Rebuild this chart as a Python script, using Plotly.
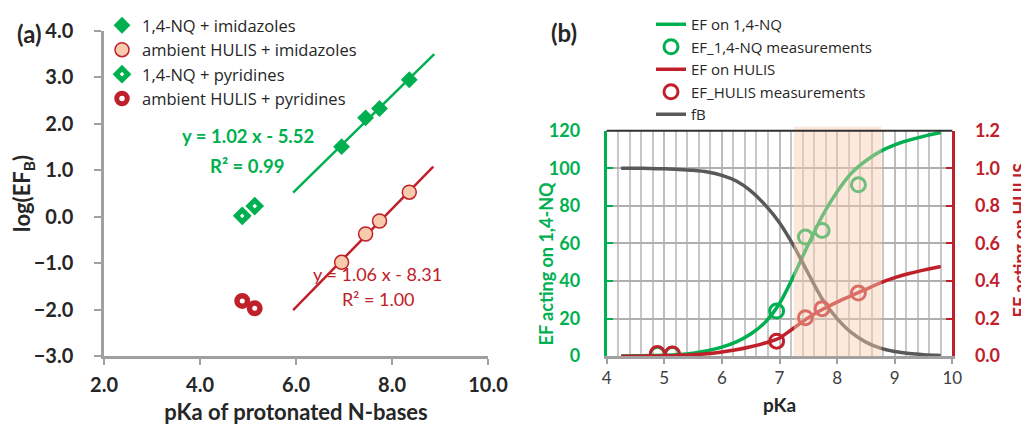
import plotly.graph_objects as go

# ---------------- Panel (a) data ----------------
pka_imid = [6.95, 7.45, 7.74, 8.36]
logef_nq_imid = [1.51, 2.13, 2.33, 2.95]
logef_hulis_imid = [-0.98, -0.37, -0.09, 0.53]
pka_pyr = [4.88, 5.14]
logef_nq_pyr = [0.02, 0.23]
logef_hulis_pyr = [-1.81, -1.97]
fit_nq_x = [5.94, 8.88]
fit_nq_y = [0.52, 3.50]
fit_hulis_x = [5.94, 8.86]
fit_hulis_y = [-2.01, 1.08]

# ---------------- Panel (b) data ----------------
pka_meas = [4.88, 5.14, 6.95, 7.45, 7.74, 8.37]
ef_nq_meas = [1.0, 1.0, 24.0, 63.4, 66.9, 91.2]
ef_hulis_meas = [0.014, 0.012, 0.08, 0.205, 0.253, 0.336]
pka_curve = [4.25, 4.5, 4.75, 5.0, 5.25, 5.5, 5.75, 6.0, 6.25, 6.5, 6.75, 7.0,
             7.25, 7.5, 7.75, 8.0, 8.25, 8.5, 8.75, 9.0, 9.25, 9.5, 9.8]
fb_curve = [100, 100, 99.9, 99.7, 99.4, 98.9, 98, 96.2, 93.2, 88, 80.5, 71,
            58.5, 44, 30, 20, 12.5, 7.5, 4.3, 2.5, 1.4, 0.8, 0.4]
ef_nq_curve = [0.1, 0.2, 0.3, 0.5, 0.9, 1.6, 2.9, 4.8, 7.6, 11.8, 18, 28,
               43, 59.5, 75, 87.5, 97.5, 104, 109, 112.5, 115, 117, 119]
ef_hulis_curve = [0.0, 0.0, 0.001, 0.002, 0.004, 0.007, 0.013, 0.022, 0.034, 0.05,
                  0.07, 0.097, 0.15, 0.205, 0.25, 0.288, 0.322, 0.356, 0.39,
                  0.418, 0.44, 0.458, 0.477]
shade_range = [7.25, 8.77]

FONT = "Lato"
LFONT = "Open Sans"
GREEN = "#00b050"
RED = "#c0202a"
DARK = "#262626"
GRAY = "#595959"

fig = go.Figure()

# ---- Panel (a) traces ----
fig.add_trace(go.Scatter(x=fit_nq_x, y=fit_nq_y, mode="lines", line=dict(color=GREEN, width=2.5),
                         showlegend=False, xaxis="x", yaxis="y"))
fig.add_trace(go.Scatter(x=fit_hulis_x, y=fit_hulis_y, mode="lines", line=dict(color=RED, width=2.5),
                         showlegend=False, xaxis="x", yaxis="y"))
fig.add_trace(go.Scatter(x=pka_imid, y=logef_nq_imid, mode="markers", name="1,4-NQ + imidazoles",
                         marker=dict(symbol="diamond", size=13, color=GREEN),
                         legend="legend", xaxis="x", yaxis="y"))
fig.add_trace(go.Scatter(x=pka_imid, y=logef_hulis_imid, mode="markers", name="ambient HULIS + imidazoles",
                         marker=dict(symbol="circle", size=14, color="#f8cbad", line=dict(color=RED, width=1.5)),
                         legend="legend", xaxis="x", yaxis="y"))
fig.add_trace(go.Scatter(x=pka_pyr, y=logef_nq_pyr, mode="markers", name="1,4-NQ + pyridines",
                         marker=dict(symbol="diamond", size=9, color="white", line=dict(color=GREEN, width=5)),
                         legend="legend", xaxis="x", yaxis="y"))
fig.add_trace(go.Scatter(x=pka_pyr, y=logef_hulis_pyr, mode="markers", name="ambient HULIS + pyridines",
                         marker=dict(symbol="circle", size=10.5, color="white", line=dict(color=RED, width=5.5)),
                         legend="legend", xaxis="x", yaxis="y"))

# ---- Panel (b) traces ----
fig.add_trace(go.Scatter(x=pka_curve, y=ef_nq_curve, mode="lines", name="EF on 1,4-NQ",
                         line=dict(color=GREEN, width=3.5, shape="spline", smoothing=0.8),
                         legend="legend2", legendrank=1001, xaxis="x2", yaxis="y2"))
fig.add_trace(go.Scatter(x=pka_meas, y=ef_nq_meas, mode="markers", name="EF_1,4-NQ measurements",
                         marker=dict(symbol="circle-open", size=14, color=GREEN, line=dict(width=3)),
                         legend="legend2", legendrank=1002, xaxis="x2", yaxis="y2"))
fig.add_trace(go.Scatter(x=pka_curve, y=fb_curve, mode="lines", name="fB",
                         line=dict(color=GRAY, width=3.5, shape="spline", smoothing=0.8),
                         legend="legend2", legendrank=1005, xaxis="x2", yaxis="y2"))
fig.add_trace(go.Scatter(x=pka_curve, y=ef_hulis_curve, mode="lines", name="EF on HULIS",
                         line=dict(color=RED, width=3.5, shape="spline", smoothing=0.8),
                         legend="legend2", legendrank=1003, xaxis="x2", yaxis="y3"))
fig.add_trace(go.Scatter(x=pka_meas, y=ef_hulis_meas, mode="markers", name="EF_HULIS measurements",
                         marker=dict(symbol="circle-open", size=14, color=RED, line=dict(width=3)),
                         legend="legend2", legendrank=1004, xaxis="x2", yaxis="y3"))

# page body has an 8px margin: the figure's origin sits at (8, 8) of the window
OFF = 8
W, H = 1029 - OFF, 425 - OFF
def px(x):
    return (x - OFF) / W
def py(y):
    return (H - (y - OFF)) / H

tickfont_a = dict(family=FONT, size=20, color=DARK, weight="bold")

fig.update_layout(
    width=W, height=H,
    margin=dict(l=0, r=0, t=0, b=0),
    paper_bgcolor="white", plot_bgcolor="white",
    font=dict(family=FONT, color=DARK),
    xaxis=dict(domain=[px(104), px(488)], range=[2, 10], dtick=2, tickformat=".1f", automargin=False,
               showgrid=False, zeroline=False, showline=True, linecolor="#a0a0a0", linewidth=2.5,
               ticks="outside", ticklen=6, tickwidth=2, tickcolor="#a0a0a0",
               tickfont=tickfont_a, ticklabelstandoff=3, anchor="y",
               title=dict(text="pKa of protonated N-bases", font=dict(family=FONT, size=22, color=DARK, weight="bold"),
                          standoff=21)),
    yaxis=dict(domain=[py(356), py(30)], range=[-3, 4], dtick=1, tickformat=".1f", automargin=False,
               showgrid=False, zeroline=False, showline=True, linecolor="#a0a0a0", linewidth=2.5,
               ticks="outside", ticklen=7, tickwidth=2, tickcolor="#a0a0a0",
               tickfont=tickfont_a, ticklabelstandoff=17, anchor="x",
               title=dict(text="log(EF<sub>B</sub>)", font=dict(family=FONT, size=22, color=DARK, weight="bold"),
                          standoff=21)),
    xaxis2=dict(domain=[px(606.7), px(952.3)], range=[4, 10], dtick=1, automargin=False,
                showgrid=True, gridcolor="#bdbdbd", gridwidth=1.5,
                minor=dict(dtick=0.2, showgrid=True, gridcolor="#c8c8c8", gridwidth=1.5),
                zeroline=False, showline=True, linecolor="#a0a0a0", linewidth=2.5,
                ticks="outside", ticklen=5, tickwidth=1.5, tickcolor="#a0a0a0",
                tickfont=dict(family=FONT, size=17, color="#404040"), ticklabelstandoff=0, anchor="y2",
                title=dict(text="pKa", font=dict(family=FONT, size=19, color=DARK, weight="bold"), standoff=12)),
    yaxis2=dict(domain=[py(356), py(130)], range=[0, 120], dtick=20, automargin=False,
                showgrid=True, gridcolor="#b0b0b0", gridwidth=1.5,
                zeroline=False, showline=True, linecolor=GREEN, linewidth=3,
                ticks="inside", ticklen=6, tickwidth=2, tickcolor=GREEN,
                tickfont=dict(family=FONT, size=18, color=GREEN, weight="bold"), ticklabelstandoff=20,
                anchor="x2"),
    yaxis3=dict(domain=[py(356), py(130)], range=[0, 1.2], dtick=0.2, tickformat=".1f", automargin=False,
                overlaying="y2", side="right", anchor="x2",
                showgrid=False, zeroline=False, showline=True, linecolor=RED, linewidth=3,
                ticks="inside", ticklen=6, tickwidth=2, tickcolor=RED,
                tickfont=dict(family=FONT, size=18, color=RED, weight="bold"), ticklabelstandoff=16),
    legend=dict(x=px(102), y=py(8), xanchor="left", yanchor="top", bgcolor="rgba(0,0,0,0)",
                font=dict(family=LFONT, size=16.5, color=DARK), tracegroupgap=0, itemclick=False),
    legend2=dict(x=px(651), y=py(7), xanchor="left", yanchor="top", bgcolor="rgba(0,0,0,0)",
                 font=dict(family=LFONT, size=15, color=DARK), tracegroupgap=0, itemclick=False,
                 traceorder="normal"),
)

# shaded pKa window (drawn above curves, semi-transparent)
fig.add_shape(type="rect", xref="x2", yref="y2 domain", x0=shade_range[0], x1=shade_range[1],
              y0=0, y1=1.018, fillcolor="rgb(251,206,175)", opacity=0.45, line=dict(width=0), layer="above")
# dark top border of panel (b)
fig.add_shape(type="line", xref="x2 domain", yref="y2 domain", x0=0, x1=1, y0=1, y1=1,
              line=dict(color="#303030", width=2))

def note(x, y, text, font, xref="paper", yref="paper", angle=0):
    fig.add_annotation(xref=xref, yref=yref, x=x, y=y, text=text, showarrow=False,
                       xanchor="center", yanchor="middle", textangle=angle, font=font)

# panel labels
note(px(29), py(33), "(a)", dict(family=FONT, size=24, color=DARK, weight="bold"))
note(px(564), py(32), "(b)", dict(family=FONT, size=24, color=DARK, weight="bold"))
# panel (b) axis titles
note(px(546), py(264), "EF acting on 1,4-NQ", dict(family=FONT, size=18, color=GREEN, weight="bold"), angle=-90)
note(px(1020), py(240), "EF acting on HULIS", dict(family=FONT, size=18, color=RED, weight="bold"), angle=-90)
# regression equations
note(5.0, 1.73, "y = 1.02 x - 5.52", dict(family=FONT, size=18.5, color=GREEN, weight="bold"), "x", "y")
note(4.97, 1.1, "R² = 0.99", dict(family=FONT, size=18.5, color=GREEN, weight="bold"), "x", "y")
note(7.69, -1.24, "y = 1.06 x - 8.31", dict(family=FONT, size=18, color=RED), "x", "y")
note(7.71, -1.77, "R² = 1.00", dict(family=FONT, size=18, color=RED), "x", "y")

fig.write_html("out.html")
